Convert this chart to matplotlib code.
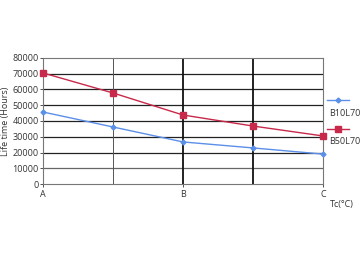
import matplotlib
matplotlib.use("Agg")
import matplotlib.pyplot as plt

x_pos = [0, 1, 2, 3, 4]
tick_pos = [0, 2, 4]
tick_labels = ["A", "B", "C"]
b10l70 = [45700, 36200, 26700, 22900, 19000]
b50l70 = [70500, 57800, 43800, 36800, 30500]

plt.rcParams['font.family'] = ['Open Sans', 'DejaVu Sans']
fig = plt.figure(figsize=(3.6, 2.62), dpi=100)
ax = fig.add_axes([43/360, 1-184/262, 280/360, 126/262])

ax.set_xlim(0, 4)
ax.set_ylim(0, 80000)
ax.set_yticks(range(0, 80001, 10000))
ax.set_xticks(tick_pos)
ax.set_xticklabels(tick_labels)
for y in range(10000, 80000, 10000):
    ax.axhline(y, color="#222222" if y != 10000 else "#666666", lw=0.9, zorder=1)
ax.axvline(1, color="#555555", lw=0.7, zorder=1)
ax.axvline(2, color="#111111", lw=1.3, zorder=1)
ax.axvline(3, color="#111111", lw=1.3, zorder=1)
for s in ax.spines.values():
    s.set_color("#777777")
    s.set_linewidth(0.8)

l1, = ax.plot(x_pos, b10l70, color="#5b8fe8", lw=1.0, marker="D", ms=2.5, zorder=3, clip_on=False)
l2, = ax.plot(x_pos, b50l70, color="#c8284a", lw=1.0, marker="s", ms=5, zorder=3, clip_on=False)

ax.tick_params(axis="both", labelsize=6.5, length=2, width=0.6, pad=1, colors="#333333")
ax.tick_params(axis="x", pad=2)
ax.set_ylabel("Life time (Hours)", fontsize=6.5, color="#333333", labelpad=2)

fig.text(342/360, 1-205/262, "Tc(°C)", fontsize=6.5, color="#333333", ha="center", va="center")

# legend
fig.lines.append(plt.Line2D([327/360, 349/360], [1-100/262, 1-100/262], transform=fig.transFigure,
                            color="#5b8fe8", lw=1.0, marker="D", ms=2.5, markevery=[]))
fig.lines.append(plt.Line2D([338/360], [1-100/262], transform=fig.transFigure,
                            color="#5b8fe8", marker="D", ms=2.5, lw=0))
fig.text(329/360, 1-113/262, "B10L70", fontsize=6.5, color="#333333", ha="left", va="center")
fig.lines.append(plt.Line2D([327/360, 349/360], [1-129/262, 1-129/262], transform=fig.transFigure,
                            color="#c8284a", lw=1.0))
fig.lines.append(plt.Line2D([338/360], [1-129/262], transform=fig.transFigure,
                            color="#c8284a", marker="s", ms=5, lw=0))
fig.text(329/360, 1-141/262, "B50L70", fontsize=6.5, color="#333333", ha="left", va="center")

fig.savefig("out.png", dpi=100)
